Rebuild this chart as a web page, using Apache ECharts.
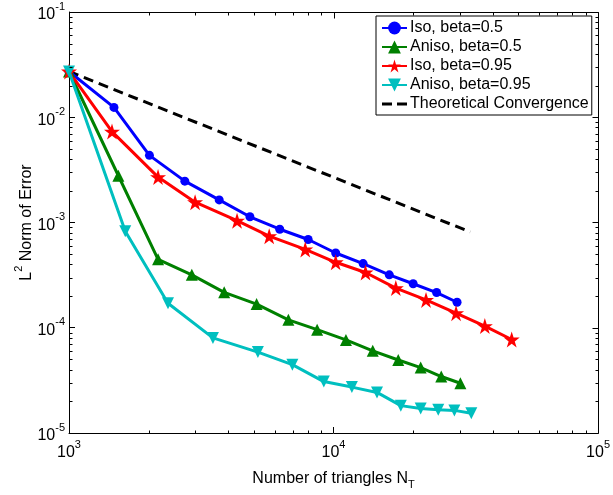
<!DOCTYPE html>
<html>
<head>
<meta charset="utf-8">
<script src="https://cdn.jsdelivr.net/npm/echarts@6/dist/echarts.min.js"></script>
<style>html,body{margin:0;padding:0;background:#fff;}#c{width:613px;height:495px;}</style>
</head>
<body>
<div id="c"></div>
<script>
// ---- data ----
const nIso05 = [1000,1479,2014,2741,3697,4830,6262,8020,10190,12940,16250,20000,24530,29310];
const eIso05 = [0.0272,0.01241,0.004345,0.002472,0.00164,0.001133,0.000863,0.000689,0.000513,0.000407,0.000318,0.000262,0.000216,0.0001747];

const nAniso05 = [1000,1537,2171,2912,3860,5119,6752,8672,11140,14070,17570,21360,25540,30170];
const eAniso05 = [0.0272,0.00278,0.000447,0.000318,0.000217,0.000168,0.000119,0.0000959,0.0000767,0.0000604,0.0000494,0.0000418,0.0000344,0.0000297];

const nIso095 = [1000,1454,2171,2997,4318,5712,7817,10190,13210,17200,22370,29060,37330,47160];
const eIso095 = [0.0272,0.00731,0.0027,0.00156,0.00104,0.000741,0.000555,0.000419,0.000335,0.000238,0.000184,0.0001377,0.0001038,0.0000773];

const nAniso095 = [1000,1632,2367,3500,5177,6988,9188,11730,14600,17960,21360,24880,28640,33180];
const eAniso095 = [0.0272,0.000826,0.000171,0.0000801,0.0000587,0.0000446,0.0000308,0.0000273,0.0000243,0.0000182,0.0000171,0.0000166,0.0000164,0.0000154];

const nTheory = [1000,32880];
const eTheory = [0.0272,0.000813];

const seriesNames = ['Iso, beta=0.5','Aniso, beta=0.5','Iso, beta=0.95','Aniso, beta=0.95','Theoretical Convergence'];
const xMajorExp = [3,4,5];
const yMajorExp = [-5,-4,-3,-2,-1];
const minorMult = [2,3,4,5,6,7,8,9];

// ---- build ----
const FONT = '"Liberation Sans", Arial, Helvetica, sans-serif';
function zip(a,b){ return a.map((v,i)=>[v,b[i]]); }
function majors(exps){ return exps.map(e=>Math.pow(10,e)); }
function minors(exps){
  const out=[];
  for(let i=0;i<exps.length-1;i++) minorMult.forEach(m=>out.push(m*Math.pow(10,exps[i])));
  return out;
}
const richLabel = {
  b:{fontSize:16,fontFamily:FONT,color:'#000',lineHeight:22,verticalAlign:'bottom'},
  s:{fontSize:11,fontFamily:FONT,color:'#000',lineHeight:22,verticalAlign:'top'}
};
function powFmt(v){ const e=Math.round(Math.log10(v)); return '{b|10}{s|'+e+'}'; }

const star = 'path://M50,0 L61.2,34.5 L97.6,34.5 L68.2,55.9 L79.4,90.5 L50,69.1 L20.6,90.5 L31.8,55.9 L2.4,34.5 L38.8,34.5 Z';
const dashIcon = 'path://M0,6.5 H10 V9.5 H0 Z M15,6.5 H25 V9.5 H15 Z M0,0 L0.01,0 L0.01,0.01 Z M25,16 L24.99,16 L24.99,15.99 Z';

const chart = echarts.init(document.getElementById('c'), null, {renderer:'canvas'});

const option = {
  animation:false,
  backgroundColor:'#fff',
  textStyle:{fontFamily:FONT},
  grid:{left:69,right:12,top:12,bottom:58,containLabel:false},
  legend:{
    orient:'vertical', left:376, top:16,
    data:seriesNames.map((n,i)=> i===4 ? {name:n, icon:dashIcon} : {name:n}),
    backgroundColor:'#fff', borderColor:'#000', borderWidth:1,
    padding:[4,3,3,5], itemGap:3, itemWidth:25, itemHeight:16,
    textStyle:{fontSize:16,fontFamily:FONT,color:'#000',padding:[0,0,0,-2]}
  },
  xAxis:[
    {type:'log',logBase:10,min:1000,max:100000,interval:1,position:'bottom',
     axisLine:{show:true,lineStyle:{color:'#000',width:1}},
     axisTick:{show:true,inside:true,length:6,lineStyle:{color:'#000',width:1}},
     axisLabel:{formatter:powFmt,rich:richLabel,margin:6},
     splitLine:{show:false},
     name:'Number of triangles N{t|T}', nameLocation:'middle', nameGap:34, nameMoveOverlap:false,
     nameTextStyle:{fontSize:16,fontFamily:FONT,color:'#000',
       rich:{t:{fontSize:11,fontFamily:FONT,color:'#000',padding:[12,0,0,0]}}}
    }
  ],
  yAxis:[
    {type:'log',logBase:10,min:1e-5,max:1e-1,interval:1,position:'left',
     axisLine:{show:true,lineStyle:{color:'#000',width:1}},
     axisTick:{show:true,inside:true,length:6,lineStyle:{color:'#000',width:1}},
     axisLabel:{formatter:powFmt,rich:richLabel,margin:4},
     splitLine:{show:false},
     name:'{n|L}{p|2}{n| Norm of Error}', nameLocation:'middle', nameGap:34, nameMoveOverlap:false,
     nameTextStyle:{fontSize:16,fontFamily:FONT,color:'#000',
       rich:{
         n:{fontSize:16,fontFamily:FONT,color:'#000',lineHeight:22,verticalAlign:'bottom'},
         p:{fontSize:11,fontFamily:FONT,color:'#000',lineHeight:22,verticalAlign:'top'}
       }}
    }
  ],
  series:[
    {name:seriesNames[0],type:'line',data:zip(nIso05,eIso05),color:'#0000ff',
     lineStyle:{width:3},symbol:'circle',symbolSize:9,itemStyle:{color:'#0000ff'},z:3},
    {name:seriesNames[1],type:'line',data:zip(nAniso05,eAniso05),color:'#008000',
     lineStyle:{width:3},symbol:'triangle',symbolSize:12,itemStyle:{color:'#008000'},z:3},
    {name:seriesNames[2],type:'line',data:zip(nIso095,eIso095),color:'#ff0000',
     lineStyle:{width:3},symbol:star,symbolSize:16,itemStyle:{color:'#ff0000'},z:3},
    {name:seriesNames[3],type:'line',data:zip(nAniso095,eAniso095),color:'#00bfbf',
     lineStyle:{width:3},symbol:'triangle',symbolRotate:180,symbolSize:12,itemStyle:{color:'#00bfbf'},z:4},
    {name:seriesNames[4],type:'line',data:zip(nTheory,eTheory),color:'#000',
     lineStyle:{width:3,type:[10,6]},symbol:'none',showSymbol:false,itemStyle:{color:'#000'},z:2}
  ]
};
chart.setOption(option);

// box + inward ticks (MATLAB style), positioned through the axes' own scales
(function(){
  const px = v => chart.convertToPixel({xAxisIndex:0}, v);
  const py = v => chart.convertToPixel({yAxisIndex:0}, v);
  const xL = px(1000), xR = px(100000), yB = py(1e-5), yT = py(1e-1);
  const els = [];
  const st = {stroke:'#000', lineWidth:1};
  function ln(x1,y1,x2,y2){ els.push({type:'line',silent:true,z:10,shape:{x1:Math.round(x1)+0.5,y1:Math.round(y1)+0.5,x2:Math.round(x2)+0.5,y2:Math.round(y2)+0.5},style:st}); }
  // top and right border
  ln(xL,yT,xR,yT); ln(xR,yT,xR,yB);
  // x ticks
  majors(xMajorExp).forEach(v=>{ const x=px(v); ln(x,yT,x,yT+6); });
  minors(xMajorExp).forEach(v=>{ const x=px(v); ln(x,yB,x,yB-3); ln(x,yT,x,yT+3); });
  // y ticks
  majors(yMajorExp).forEach(v=>{ const y=py(v); ln(xR,y,xR-6,y); });
  minors(yMajorExp).forEach(v=>{ const y=py(v); ln(xL,y,xL+3,y); ln(xR,y,xR-3,y); });
  chart.setOption({graphic:els});
})();
</script>
</body>
</html>
